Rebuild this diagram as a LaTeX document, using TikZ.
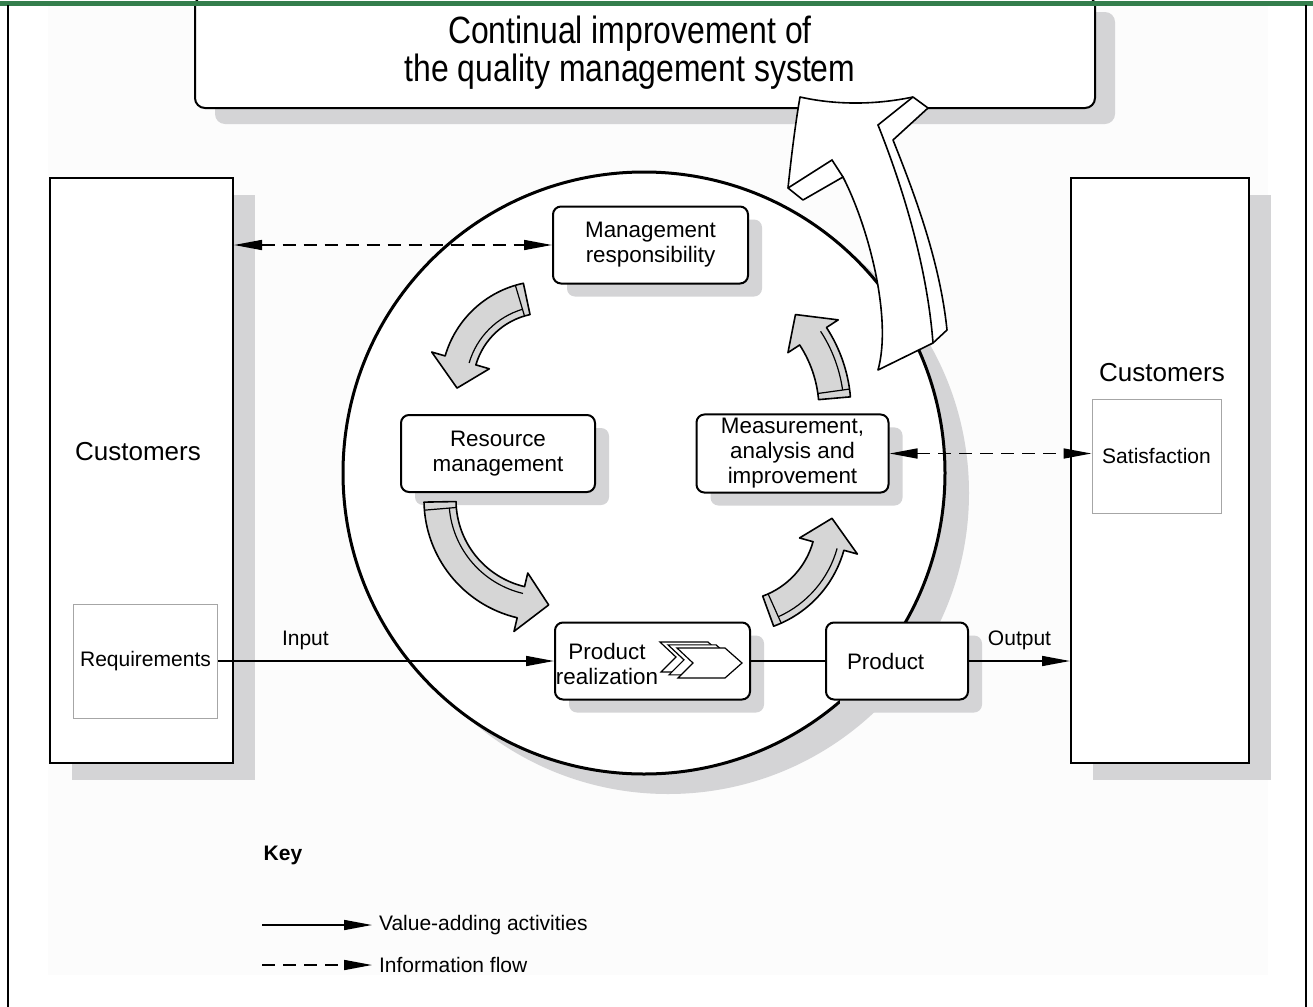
\documentclass[tikz,border=0pt]{standalone}
\usepackage{fontspec}
\setmainfont{Liberation Sans}
\newfontfamily\titlefont[FakeStretch=0.84]{Liberation Sans}
\usetikzlibrary{arrows.meta,shadows}
\definecolor{framegreen}{RGB}{52,126,76}
\definecolor{shade}{RGB}{212,212,214}
\definecolor{arrowgray}{RGB}{214,214,214}

\newcommand{\lbl}{\fontsize{10.5}{12}\selectfont}
\newcommand{\plbl}{\fontsize{11.2}{12.5}\selectfont}

% curved grey arrow: centre x, centre y, radius, start angle, end angle, strip offset
\newcommand{\bandarrow}[6]{%
  \begin{scope}[shift={(#1,#2)}]
    \pgfmathsetmacro\bsgn{(#5>#4)*2-1}
    \pgfmathsetmacro\bhead{#5-\bsgn*28/#3*57.3}
    \pgfmathsetmacro\btail{#4+\bsgn*7/#3*57.3}
    \pgfmathsetmacro\bro{#3+16}
    \pgfmathsetmacro\bri{#3-16}
    \pgfmathsetmacro\bwo{#3+30}
    \pgfmathsetmacro\bwi{#3-30}
    \pgfmathsetmacro\brs{#3+#6}
    \draw[bandarr] (#4:\bro) arc[start angle=#4, end angle=\bhead, radius=\bro]
      -- (\bhead:\bwo) -- (#5:#3) -- (\bhead:\bwi) -- (\bhead:\bri)
      arc[start angle=\bhead, end angle=#4, radius=\bri] -- cycle;
    \draw[line width=0.6pt] (\btail:\bri) -- (\btail:\bro);
    \draw[line width=0.6pt] (\btail:\brs) arc[start angle=\btail, end angle=\bhead, radius=\brs];
  \end{scope}}

\tikzset{
  box/.style={draw, line width=1pt, rounded corners=4pt, fill=white, align=center, font=\plbl,
    minimum height=38.5pt, inner sep=2pt,
    drop shadow={shadow xshift=7pt, shadow yshift=-6.5pt, fill=shade, opacity=1}},
  topbox/.style={draw, line width=1pt, rounded corners=5pt, fill=white,
    drop shadow={shadow xshift=10pt, shadow yshift=-8pt, fill=shade, opacity=1}},
  custbox/.style={draw, line width=1pt, fill=white, minimum width=91.5pt, minimum height=292.5pt,
    drop shadow={shadow xshift=11pt, shadow yshift=-8.5pt, fill=shade, opacity=1}},
  inbox/.style={draw=black!35, line width=0.5pt, fill=white, font=\lbl},
  flow/.style={line width=0.8pt, -{Triangle[length=14pt,width=5pt]}},
  info/.style={line width=0.8pt, dash pattern=on 6.5pt off 4pt,
    {Triangle[length=14pt,width=5pt]}-{Triangle[length=14pt,width=5pt]}},
  bandarr/.style={draw, line width=0.8pt, fill=arrowgray, line join=round},
  bigarr/.style={draw, line width=0.8pt, fill=white, line join=round},
  chev/.style={draw, line width=0.6pt, fill=white}
}

\begin{document}
\begin{tikzpicture}[x=0.5pt, y=-0.5pt]
\useasboundingbox (0,0) rectangle (1313,1007);
\fill[black!1] (48,5) rectangle (1268,975);

% customers
\node[custbox] (custL) at (141.5,470.5) {};
\node[custbox, minimum width=89pt] (custR) at (1160,470.5) {};
\node[font=\fontsize{13}{15}\selectfont] (custLtxt) at (138,452) {Customers};
\node[font=\fontsize{13}{15}\selectfont] (custRtxt) at (1162,373) {Customers};
\node[inbox, minimum width=71.5pt, minimum height=57pt] (req) at (145.5,661) {Requirements};
\node[inbox, minimum width=64.5pt, minimum height=57pt] (satis) at (1156.5,456) {Satisfaction};

% process circle
\draw[line width=1.5pt, fill=white,
  drop shadow={shadow xshift=12pt, shadow yshift=-10pt, fill=shade, opacity=1}]
  (644,473) circle[radius=301];

\node[box, minimum width=97.5pt] (mgmt) at (650.5,245) {Management\\responsibility};
\node[box, minimum width=97pt] (res) at (498,453.5) {Resource\\management};
\node[box, minimum width=96pt] (meas) at (792.5,453.5) {Measurement,\\analysis and\\improvement};
\node[box, minimum width=97.5pt] (prodreal) at (652.5,661) {};
\node[font=\plbl, align=center] (prodrealtxt) at (607,664) {Product\\realization};
\node[box, minimum width=71pt, text width=60pt, align=left] (product) at (897,661) {\hspace*{5pt}Product};

\foreach \s in {17,9,0}
  \draw[chev, shift={(677-\s,648-0.35*\s)}] (0,0) -- (48,0) -- (65,15) -- (48,30) -- (1,30) -- (16,15) -- cycle;

% the cycle of arrows
\bandarrow{545}{385}{88}{258}{178}{-9}
\bandarrow{545}{500}{105}{179}{88}{-9}
\bandarrow{735}{520}{97}{70}{-1}{9}
\bandarrow{700}{410}{135}{-5}{-45}{9}

\draw[flow] (req.east) -- (prodreal.west) node[pos=0.26, above=2pt, font=\lbl] {Input};
\draw[line width=0.8pt] (prodreal.east) -- (product.west);
\draw[flow] (product.east) -- (product.east -| custR.west) node[midway, above=2pt, font=\lbl] {Output};
\draw[info] (mgmt.west -| custL.east) -- (mgmt.west);
\draw[info] (meas.east) -- (meas.east -| satis.west);

% continual improvement
\node[topbox, minimum width=450pt, minimum height=56pt] (cqms) at (645,52) {};
\node[font=\titlefont\fontsize{19}{19}\selectfont, align=center] (cqmstxt) at (630,53)
  {Continual improvement of\\the quality management system};

\draw[bigarr] (800,97) .. controls (840,106) and (880,104) .. (913,97) -- (928,108) -- (893,140)
  .. controls (915,195) and (940,262) .. (947,330) -- (933,343) -- (878,370)
  .. controls (892,320) and (870,230) .. (843,177) -- (803,200) -- (788,188)
  .. controls (792,150) and (796,120) .. (800,97) -- cycle;
\draw[line width=0.8pt] (913,97) -- (878,125) .. controls (902,185) and (927,265) .. (933,343);
\draw[line width=0.8pt] (788,188) -- (832,160) -- (843,177);

% key
\node[font=\lbl\bfseries] (key) at (283,855) {Key};
\node[font=\lbl, anchor=west] (keyval) at (372,925) {Value-adding activities};
\node[font=\lbl, anchor=west] (keyinfo) at (372,965) {Information flow};
\coordinate (keyvals) at (262,925);
\coordinate (keyinfos) at (262,965);
\draw[flow] (keyvals) -- (keyval.west);
\draw[flow, dash pattern=on 6.5pt off 4pt] (keyinfos) -- (keyinfo.west);

% frame
\draw[framegreen, line width=2.5pt] (0,3) -- (1313,3);
\draw[line width=1.2pt] (8,5) -- (8,1007);
\draw[line width=1.2pt] (1306,5) -- (1306,1007);
\end{tikzpicture}
\end{document}
